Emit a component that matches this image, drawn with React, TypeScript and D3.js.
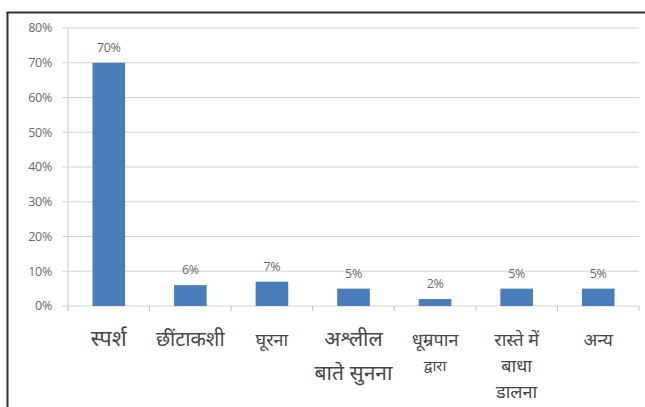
import React from 'react';
import * as d3 from 'd3';

// chart values
const categories = ['स्पर्श', 'छींटाकशी', 'घूरना', 'अश्लील बाते सुनना', 'धूम्रपान द्वारा', 'रास्ते में बाधा डालना', 'अन्य'];
const labelLines = [
    ['स्पर्श'],
    ['छींटाकशी'],
    ['घूरना'],
    ['अश्लील', 'बाते सुनना'],
    ['धूम्रपान', 'द्वारा'],
    ['रास्ते में', 'बाधा', 'डालना'],
    ['अन्य'],
];
const values = [0.70, 0.06, 0.07, 0.05, 0.02, 0.05, 0.05];
const yTicks = [0, 0.1, 0.2, 0.3, 0.4, 0.5, 0.6, 0.7, 0.8];

const W = 645;
const H = 407;
const BAR = '#4a7ebb';
const DEVA = '"Noto Sans Devanagari", "Lohit Devanagari", "Mangal", "Noto Sans", sans-serif';
const NUM = '"Open Sans", "Liberation Sans", Arial, sans-serif';

export default function App() {
    const x = d3.scaleBand<string>().domain(categories).range([68, 639]).paddingInner(0).paddingOuter(0);
    const y = d3.scaleLinear().domain([0, 0.8]).range([306, 28]);
    const barW = x.bandwidth() * 0.4;
    const pct = d3.format('.0%');

    // per-category font size of the axis labels (the source mixes sizes)
    const labelSize = [22, 20, 18, 21, 18, 18, 18];
    const lineGap = [0, 0, 0, 34, 25, 26, 0];

    return (
        <div style={{ position: 'fixed', left: 0, top: 0, width: W, height: H, background: '#fff' }}>
            <svg width={W} height={H} style={{ display: 'block' }}>
                <rect x={0} y={0} width={W} height={H} fill="#fff" />
                {/* outer frame: only left and top edges are visible */}
                <line x1={7.5} x2={7.5} y1={12} y2={H} stroke="#333" strokeWidth={2} />
                <line x1={6.5} x2={W} y1={12.5} y2={12.5} stroke="#333" strokeWidth={2} />

                {/* gridlines */}
                {yTicks.map((t) => (
                    <line key={t} x1={62} x2={639} y1={y(t)} y2={y(t)} stroke="#d4d4d4" strokeWidth={1.2} />
                ))}
                {/* y axis */}
                <line x1={68} x2={68} y1={y(0.8)} y2={y(0)} stroke="#d4d4d4" strokeWidth={1.2} />
                {yTicks.map((t) => (
                    <text
                        key={'l' + t}
                        x={52}
                        y={y(t)}
                        dy="0.35em"
                        textAnchor="end"
                        fontFamily={NUM}
                        fontSize={12.5}
                        letterSpacing={-0.3}
                        fill="#6a6a6a"
                    >
                        {pct(t)}
                    </text>
                ))}
                {/* x axis ticks */}
                {categories.concat(['']).map((c, i) => {
                    const xx = 68 + i * x.step();
                    return <line key={'t' + i} x1={xx} x2={xx} y1={306} y2={311} stroke="#bbb" />;
                })}

                {/* bars */}
                {categories.map((c, i) => {
                    const cx = (x(c) ?? 0) + x.bandwidth() / 2;
                    return (
                        <g key={c}>
                            <rect x={cx - barW / 2} y={y(values[i])} width={barW} height={y(0) - y(values[i])} fill={BAR} />
                            <text
                                x={cx}
                                y={y(values[i]) - 11}
                                textAnchor="middle"
                                fontFamily={NUM}
                                fontSize={12.5}
                                letterSpacing={-0.3}
                                fill="#6a6a6a"
                            >
                                {pct(values[i])}
                            </text>
                        </g>
                    );
                })}

                {/* category labels */}
                {categories.map((c, i) => {
                    const cx = (x(c) ?? 0) + x.bandwidth() / 2;
                    return (
                        <text
                            key={'c' + c}
                            textAnchor="middle"
                            fontFamily={DEVA}
                            fontSize={labelSize[i]}
                            fill="#484848"
                        >
                            {labelLines[i].map((ln, j) => (
                                <tspan key={j} x={cx} y={346 + j * lineGap[i]} fontSize={j > 0 && i === 4 ? 15 : undefined}>
                                    {ln}
                                </tspan>
                            ))}
                        </text>
                    );
                })}
            </svg>
        </div>
    );
}
